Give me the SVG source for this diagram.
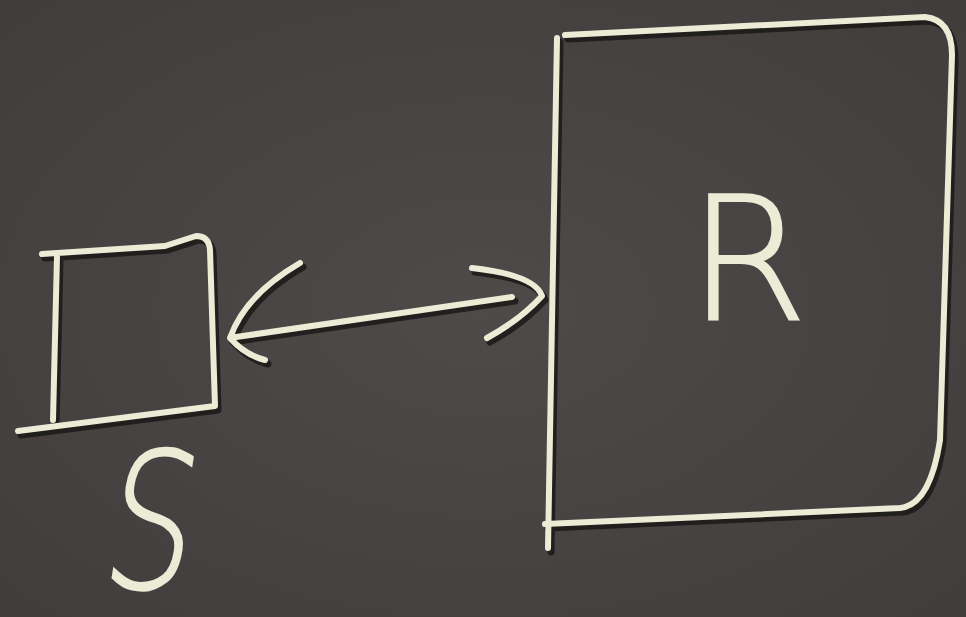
<svg xmlns="http://www.w3.org/2000/svg" width="966" height="617" viewBox="0 0 966 617">
<defs>
<style>
.sh{fill:none;stroke:#161614;stroke-width:7;stroke-linecap:round;stroke-linejoin:round;opacity:0.8}
.ch{fill:none;stroke:#ecebd6;stroke-width:6;stroke-linecap:round;stroke-linejoin:round}
.lbl{font-family:"DejaVu Sans",sans-serif;font-weight:200;fill:#ecebd6;stroke:#ecebd6;stroke-width:2}
</style>
<radialGradient id="bg" cx="0.5" cy="0.5" r="0.7">
<stop offset="0" stop-color="#4e4a49"/>
<stop offset="1" stop-color="#403d3c"/>
</radialGradient>
</defs>
<rect width="966" height="617" fill="url(#bg)"/>
<g id="node-S">
<path class="sh" d="M42 254 L165 246 L196 236 Q209 236 210 250 L215 406 L18 431 M57 256 L53 420" transform="translate(3,4)"/>
<path class="ch" d="M42 254 L165 246 L196 236 Q209 236 210 250 L215 406 L18 431 M57 256 L53 420"/>
<text class="lbl" x="0" y="0" font-size="180" transform="translate(98,588) scale(0.78,1.05) skewX(-12)">S</text>
</g>
<g id="node-R">
<path class="sh" d="M565 35 L925 17 Q952 20 952 55 L940 440 Q930 505 900 508 L545 524 M557 38 L548 548" transform="translate(3,4)"/>
<path class="ch" d="M565 35 L925 17 Q952 20 952 55 L940 440 Q930 505 900 508 L545 524 M557 38 L548 548"/>
<text class="lbl" x="688" y="320" font-size="172">R</text>
</g>
<g id="connectors">
<path class="sh" d="M236 337 L512 297 M300 263 Q245 295 230 338 Q245 355 265 360 M472 268 Q535 275 542 296 Q520 320 487 338" transform="translate(3,4)"/>
<path class="ch" d="M236 337 L512 297 M300 263 Q245 295 230 338 Q245 355 265 360 M472 268 Q535 275 542 296 Q520 320 487 338"/>
</g>
</svg>
